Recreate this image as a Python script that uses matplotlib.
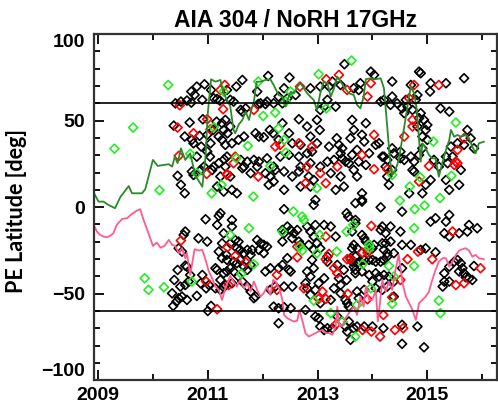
import numpy as np
import matplotlib.pyplot as plt
from matplotlib.ticker import MultipleLocator

plt.rcParams['font.family'] = ['Liberation Sans', 'DejaVu Sans']
plt.rcParams['font.weight'] = 'bold'

# mean polar-edge latitude, north and south (year, deg)
north_line_year = [2008.92, 2009.01, 2009.10, 2009.19, 2009.31, 2009.41, 2009.56, 2009.62, 2009.71, 2009.80,
                   2009.86, 2010.00, 2010.09, 2010.20, 2010.29, 2010.35, 2010.40, 2010.45, 2010.51, 2010.59,
                   2010.68, 2010.77, 2010.90, 2010.96, 2011.00, 2011.06, 2011.14, 2011.23, 2011.29, 2011.35,
                   2011.41, 2011.47, 2011.50, 2011.56, 2011.63, 2011.69, 2011.75, 2011.81, 2011.84, 2011.89,
                   2011.96, 2012.05, 2012.14, 2012.20, 2012.29, 2012.36, 2012.42, 2012.45, 2012.51, 2012.57,
                   2012.63, 2012.69, 2012.75, 2012.81, 2012.87, 2012.93, 2012.99, 2013.05, 2013.11, 2013.18,
                   2013.24, 2013.30, 2013.36, 2013.42, 2013.48, 2013.57, 2013.66, 2013.72, 2013.78, 2013.84,
                   2013.88, 2013.97, 2014.06, 2014.15, 2014.21, 2014.27, 2014.32, 2014.36, 2014.42, 2014.48,
                   2014.55, 2014.61, 2014.65, 2014.70, 2014.76, 2014.81, 2014.85, 2014.88, 2014.91, 2014.97,
                   2015.03, 2015.09, 2015.15, 2015.21, 2015.28, 2015.34, 2015.40, 2015.43, 2015.49, 2015.55,
                   2015.61, 2015.70, 2015.76, 2015.82, 2015.88, 2015.94, 2016.03]
north_line_lat = [8.4, 3.2, 3.2, 1.3, -0.6, 6.0, 12.2, 8.0, 8.0, 8.0,
                  10.3, 27.3, 23.8, 24.4, 24.8, 23.4, 29.2, 25.4, 34.0, 27.3,
                  31.1, 18.6, 11.8, 29.2, 54.2, 73.9, 72.5, 73.5, 65.8, 61.9,
                  58.1, 44.6, 42.7, 47.5, 50.4, 55.2, 50.4, 58.1, 60.9, 72.5,
                  72.5, 73.5, 73.9, 70.6, 64.8, 63.8, 58.1, 61.9, 66.7, 65.8,
                  69.6, 71.6, 68.7, 65.8, 63.8, 61.9, 56.2, 65.8, 72.5, 71.6,
                  63.8, 68.7, 75.4, 72.5, 69.6, 65.8, 64.8, 59.1, 57.1, 63.8,
                  73.9, 74.5, 73.9, 74.5, 68.7, 46.5, 27.3, 18.6, 21.5, 27.3,
                  40.7, 52.3, 60.9, 69.6, 65.8, 56.2, 38.8, 26.3, 36.9, 34.0,
                  30.2, 28.2, 28.2, 17.6, 26.3, 33.0, 38.8, 44.6, 40.7, 41.7,
                  40.7, 41.7, 39.8, 35.0, 31.1, 36.9, 37.8]

south_line_year = [2008.92, 2008.98, 2009.04, 2009.10, 2009.16, 2009.22, 2009.28, 2009.34, 2009.44, 2009.53,
                   2009.62, 2009.71, 2009.77, 2009.83, 2009.92, 2010.00, 2010.07, 2010.14, 2010.21, 2010.29,
                   2010.35, 2010.41, 2010.47, 2010.53, 2010.59, 2010.62, 2010.68, 2010.76, 2010.83, 2010.90,
                   2010.96, 2011.02, 2011.08, 2011.14, 2011.20, 2011.26, 2011.32, 2011.41, 2011.47, 2011.53,
                   2011.59, 2011.66, 2011.72, 2011.78, 2011.84, 2011.90, 2011.96, 2012.02, 2012.08, 2012.14,
                   2012.19, 2012.25, 2012.31, 2012.36, 2012.39, 2012.45, 2012.51, 2012.57, 2012.63, 2012.67,
                   2012.72, 2012.78, 2012.84, 2012.90, 2012.96, 2013.02, 2013.09, 2013.15, 2013.21, 2013.27,
                   2013.33, 2013.36, 2013.39, 2013.45, 2013.51, 2013.57, 2013.66, 2013.72, 2013.78, 2013.84,
                   2013.88, 2013.94, 2014.00, 2014.06, 2014.10, 2014.14, 2014.18, 2014.24, 2014.30, 2014.36,
                   2014.42, 2014.48, 2014.55, 2014.61, 2014.67, 2014.73, 2014.79, 2014.85, 2014.91, 2014.97,
                   2015.03, 2015.09, 2015.15, 2015.21, 2015.28, 2015.34, 2015.40, 2015.46, 2015.52, 2015.58,
                   2015.64, 2015.70, 2015.76, 2015.82, 2015.88, 2015.94, 2016.03]
south_line_lat = [-10.3, -14.1, -16.1, -17.0, -17.4, -16.6, -15.1, -10.3, -6.8, -6.4,
                  -3.9, -2.0, -1.2, -7.4, -15.1, -22.4, -20.5, -23.4, -22.4, -18.9,
                  -21.8, -22.4, -26.6, -23.7, -29.5, -26.6, -39.2, -24.3, -25.1, -24.7,
                  -30.5, -37.3, -41.1, -45.9, -47.8, -53.6, -46.9, -39.7, -43.0, -45.9,
                  -42.1, -46.9, -44.0, -48.8, -43.0, -47.8, -51.7, -49.7, -45.9, -50.7,
                  -42.1, -43.6, -47.8, -53.6, -62.3, -64.2, -65.2, -66.1, -65.6, -59.4,
                  -65.2, -72.8, -74.8, -73.8, -72.8, -71.9, -70.9, -72.8, -72.8, -73.8,
                  -69.0, -57.5, -68.0, -69.0, -64.2, -61.3, -57.5, -62.3, -51.7, -57.5,
                  -45.9, -53.6, -53.6, -47.8, -66.1, -54.6, -42.1, -48.8, -43.0, -47.8,
                  -36.3, -27.6, -44.0, -51.7, -55.5, -59.4, -65.2, -55.5, -53.6, -51.7,
                  -48.8, -42.1, -36.3, -31.5, -29.5, -29.5, -34.4, -31.5, -27.6, -25.1,
                  -24.3, -23.7, -25.1, -28.6, -27.6, -29.5, -30.1]

# individual polar-edge detections (year, latitude)
black_north = [(2010.80, 69.7), (2010.94, 71.0), (2010.70, 66.8), (2010.76, 64.9), (2010.90, 62.0), (2010.41, 60.0),
               (2010.51, 61.0), (2010.62, 61.6), (2010.70, 60.4), (2011.06, 67.7), (2011.11, 62.9), (2011.17, 62.5),
               (2011.22, 61.6), (2010.38, 47.1), (2010.67, 48.9), (2010.58, 40.8), (2010.71, 38.9), (2010.74, 36.9),
               (2010.85, 41.2), (2010.91, 50.8), (2010.99, 41.8), (2011.05, 36.9), (2011.10, 44.6), (2011.16, 49.4),
               (2011.20, 40.8), (2011.26, 48.5), (2011.29, 44.6), (2010.99, 32.1), (2010.88, 35.0), (2011.04, 29.2),
               (2010.80, 29.2), (2011.11, 23.4), (2011.20, 25.4), (2011.30, 27.7), (2011.32, 23.4), (2011.23, 17.7),
               (2011.17, 11.9), (2010.45, 18.1), (2010.51, 12.9), (2010.58, 8.0), (2010.71, 20.6), (2010.74, 18.6),
               (2010.87, 21.5), (2011.08, 21.5), (2010.93, 23.4), (2011.26, 38.9), (2011.32, 36.0), (2011.36, 42.7),
               (2013.49, 82.6), (2011.63, 73.5), (2011.52, 69.7), (2011.35, 67.7), (2012.10, 75.8), (2011.90, 66.8),
               (2012.49, 74.9), (2012.39, 68.7), (2012.87, 68.7), (2012.60, 64.8), (2013.05, 69.7), (2013.21, 69.7),
               (2013.27, 72.6), (2013.42, 70.6), (2013.66, 68.7), (2011.41, 62.0), (2011.47, 61.0), (2011.60, 56.2),
               (2011.63, 55.2), (2011.69, 57.1), (2011.92, 59.6), (2011.96, 60.0), (2012.05, 59.6), (2012.08, 61.0),
               (2012.20, 60.0), (2012.29, 63.9), (2012.36, 60.0), (2012.45, 62.9), (2012.66, 50.8), (2012.99, 50.4),
               (2013.05, 56.2), (2013.12, 58.1), (2013.18, 62.0), (2013.33, 58.1), (2011.32, 50.4), (2011.41, 46.6),
               (2011.44, 36.9), (2011.56, 38.9), (2011.66, 40.8), (2011.87, 42.7), (2011.93, 40.8), (2012.02, 40.4),
               (2012.13, 44.6), (2012.19, 42.7), (2012.29, 38.9), (2012.36, 48.5), (2012.48, 42.7), (2012.54, 36.9),
               (2012.69, 36.0), (2012.81, 46.6), (2012.87, 40.8), (2012.90, 32.1), (2012.99, 36.9), (2013.04, 44.6),
               (2013.21, 35.0), (2013.35, 39.8), (2013.39, 36.0), (2013.45, 34.0), (2013.42, 31.1), (2013.45, 28.2),
               (2013.51, 26.3), (2013.63, 30.2), (2013.72, 33.1), (2011.35, 29.2), (2011.60, 27.3), (2011.66, 23.4),
               (2011.72, 26.3), (2011.84, 27.3), (2011.93, 26.3), (2012.08, 28.2), (2012.20, 23.4), (2012.32, 29.2),
               (2012.48, 30.2), (2012.66, 29.2), (2012.69, 23.4), (2012.81, 31.1), (2012.87, 25.4), (2013.05, 23.4),
               (2013.18, 26.3), (2013.30, 27.3), (2013.57, 25.4), (2011.41, 17.7), (2011.63, 22.5), (2011.78, 19.6),
               (2011.90, 23.4), (2012.05, 19.6), (2012.14, 17.7), (2012.23, 21.5), (2012.39, 20.6), (2012.54, 17.7),
               (2012.66, 20.6), (2012.84, 17.7), (2012.93, 15.7), (2013.24, 19.6), (2013.42, 17.7), (2013.66, 21.5),
               (2011.29, 9.0), (2011.44, 10.0), (2011.53, 8.0), (2012.11, 12.9), (2012.20, 14.8), (2012.39, 10.0),
               (2012.69, 11.9), (2012.87, 11.9), (2013.33, 10.0), (2013.48, 11.9), (2013.69, 2.3),
               (2013.97, 78.3), (2014.03, 76.4), (2014.85, 78.3), (2014.88, 77.4), (2015.67, 74.5), (2014.36, 72.6),
               (2013.78, 71.6), (2013.75, 67.7), (2015.05, 66.8), (2015.06, 71.6), (2015.34, 71.6), (2014.70, 70.6),
               (2014.36, 63.9), (2014.21, 62.0), (2014.15, 61.0), (2014.61, 62.0), (2014.82, 64.8), (2014.79, 62.0),
               (2015.24, 57.1), (2015.40, 55.2), (2014.33, 59.1), (2014.45, 60.0), (2014.54, 57.1), (2014.58, 54.3),
               (2014.64, 58.1), (2014.73, 56.2), (2014.88, 54.3), (2013.63, 50.4), (2013.88, 48.5), (2013.66, 44.6),
               (2013.60, 39.8), (2013.81, 41.8), (2013.85, 37.9), (2013.94, 31.1), (2014.06, 36.0), (2014.12, 36.9),
               (2013.75, 26.3), (2013.88, 24.4), (2013.72, 17.7), (2013.81, 8.0), (2013.81, 4.2), (2014.21, 29.2),
               (2014.27, 27.3), (2014.24, 23.4), (2014.27, 17.7), (2014.30, 12.9), (2014.36, 21.5), (2014.36, 34.0),
               (2014.39, 31.1), (2014.51, 28.3), (2014.58, 27.3), (2014.70, 29.2), (2014.76, 26.3), (2014.73, 21.5),
               (2014.85, 30.2), (2014.91, 34.0), (2014.97, 44.6), (2015.00, 38.9), (2014.91, 40.8), (2014.94, 50.4),
               (2014.85, 51.4), (2014.82, 46.6), (2015.00, 47.5), (2015.06, 15.7), (2014.97, 12.9), (2014.91, 8.0),
               (2015.12, 27.3), (2015.21, 23.4), (2015.34, 29.2), (2015.37, 25.4), (2015.46, 29.2), (2015.43, 35.0),
               (2015.55, 36.9), (2015.73, 44.6), (2015.67, 36.0), (2015.79, 39.8), (2015.85, 34.0), (2015.61, 21.5),
               (2015.58, 12.9), (2015.40, 10.0), (2015.34, 15.7), (2014.67, 8.0), (2014.76, 20.6), (2014.18, 29.2),
               (2014.51, 32.1)]

black_south = [(2010.59, -14.1), (2010.56, -16.1), (2010.47, -23.8), (2010.53, -25.7), (2010.59, -33.8), (2010.62, -34.4),
               (2010.45, -36.3), (2010.39, -42.1), (2010.50, -45.9), (2010.59, -45.0), (2010.68, -39.2), (2010.65, -43.0),
               (2010.53, -51.7), (2010.62, -53.6), (2010.35, -49.8), (2010.37, -57.1), (2010.43, -54.6), (2010.47, -52.6),
               (2010.96, -7.0), (2011.17, -10.3), (2011.20, -5.1), (2011.23, -3.5), (2010.83, -18.0), (2010.99, -19.9),
               (2011.20, -25.7), (2011.26, -20.9), (2011.34, -27.6), (2011.29, -38.2), (2011.35, -37.2), (2010.90, -39.2),
               (2010.87, -44.0), (2010.97, -46.9), (2011.02, -45.0), (2010.80, -51.3), (2011.14, -35.3), (2011.17, -36.3),
               (2011.14, -46.9), (2011.23, -47.8), (2011.29, -46.3), (2011.00, -60.0), (2011.06, -57.1),
               (2012.39, -1.2), (2012.93, 1.3), (2012.96, 4.2), (2013.53, -3.5), (2013.56, -5.5),
               (2011.44, -7.4), (2011.44, -11.2), (2011.29, -15.1), (2011.41, -20.9), (2011.50, -19.0), (2011.56, -19.9),
               (2011.53, -23.8), (2011.59, -24.7), (2011.66, -26.6), (2011.72, -24.7), (2011.78, -27.6), (2011.81, -24.7),
               (2011.90, -19.0), (2011.96, -20.9), (2012.02, -21.8), (2012.08, -22.8), (2011.93, -24.7), (2012.02, -26.6),
               (2011.26, -29.5), (2011.35, -30.5), (2011.47, -31.5), (2011.53, -32.4), (2011.59, -30.5), (2011.66, -34.4),
               (2011.72, -36.3), (2011.78, -33.4), (2011.41, -35.3), (2011.47, -37.2), (2011.23, -42.1), (2011.32, -45.0),
               (2011.44, -44.0), (2011.56, -40.1), (2011.63, -43.0), (2011.72, -45.9), (2011.78, -48.8), (2011.84, -52.6),
               (2011.87, -51.7), (2012.14, -47.8), (2012.23, -45.9), (2012.39, -45.9), (2012.54, -45.9), (2012.05, -37.2),
               (2012.14, -35.3), (2012.29, -35.3), (2012.36, -33.4), (2012.45, -29.5), (2012.48, -36.3), (2012.51, -37.2),
               (2012.36, -13.2), (2012.39, -15.1), (2012.45, -11.2), (2012.51, -13.2), (2012.54, -18.0), (2012.57, -15.1),
               (2012.63, -13.2), (2012.66, -19.9), (2012.69, -21.8), (2012.36, -19.9), (2012.81, -11.2), (2012.87, -14.1),
               (2012.93, -17.0), (2012.96, -10.3), (2013.12, -10.3), (2013.24, -11.2), (2013.33, -17.0), (2012.84, -21.8),
               (2012.93, -24.7), (2012.99, -20.9), (2013.05, -23.8), (2013.18, -28.6), (2013.18, -31.5), (2012.90, -30.5),
               (2012.81, -37.2), (2012.93, -35.3), (2012.87, -40.1), (2012.78, -44.0), (2012.81, -46.9), (2012.87, -50.7),
               (2012.96, -47.8), (2013.02, -44.0), (2013.12, -41.1), (2013.30, -46.9), (2013.05, -55.5), (2013.24, -53.6),
               (2013.42, -49.8), (2013.51, -53.6), (2013.54, -55.5), (2013.57, -57.5), (2013.36, -63.2), (2013.45, -66.1),
               (2013.51, -69.0), (2013.57, -66.1), (2013.60, -76.7), (2012.20, -57.5), (2012.29, -58.4), (2012.39, -57.8),
               (2012.51, -58.4), (2012.29, -67.1), (2012.78, -59.4), (2012.96, -63.2), (2013.05, -69.0), (2013.12, -71.0),
               (2013.18, -70.0), (2013.27, -70.0), (2013.02, -64.2), (2013.54, -71.9), (2013.60, -29.5), (2013.63, -31.5),
               (2013.69, -28.6), (2013.72, -32.4), (2013.63, -23.8), (2013.53, -42.1), (2013.48, -36.3), (2013.39, -41.1),
               (2013.36, -33.4), (2013.42, -45.0), (2013.66, -34.4), (2013.69, -36.3), (2013.63, -14.1), (2013.69, -7.4),
               (2013.81, 3.2), (2014.15, -0.1), (2014.54, -2.6), (2015.06, -8.4), (2015.15, -6.4), (2015.40, -4.5),
               (2015.31, -15.1), (2015.40, -17.0), (2015.34, -8.4), (2015.58, -15.1), (2015.76, -10.3), (2015.73, -14.1),
               (2015.91, -12.2), (2013.69, -9.3), (2014.18, -11.2), (2014.33, -11.2), (2014.24, -15.1), (2014.15, -13.2),
               (2014.51, -14.1), (2013.81, -16.1), (2013.85, -18.0), (2013.88, -19.9), (2013.66, -21.8), (2013.72, -23.8),
               (2013.91, -24.7), (2014.00, -23.8), (2014.03, -21.8), (2014.18, -20.9), (2014.24, -20.9), (2014.33, -19.9),
               (2014.21, -24.7), (2014.27, -26.6), (2014.39, -26.6), (2014.54, -21.8), (2014.70, -21.8), (2013.78, -31.5),
               (2013.85, -30.5), (2013.94, -30.5), (2014.00, -30.5), (2014.06, -31.5), (2014.15, -31.5), (2014.21, -30.5),
               (2014.27, -28.6), (2013.69, -38.2), (2013.81, -37.2), (2013.94, -39.2), (2014.06, -38.2), (2014.12, -40.1),
               (2014.21, -39.2), (2014.30, -40.1), (2014.27, -45.9), (2014.39, -43.0), (2014.00, -43.0), (2014.06, -46.9),
               (2014.18, -47.8), (2013.72, -48.8), (2013.75, -52.6), (2013.85, -47.8), (2014.39, -51.7), (2013.66, -70.0),
               (2013.72, -69.0), (2013.85, -69.0), (2014.00, -69.0), (2014.20, -70.0), (2014.54, -35.3), (2014.54, -68.0),
               (2014.82, -69.0), (2014.54, -79.0), (2014.94, -81.0), (2014.88, -24.7), (2014.97, -23.8), (2015.15, -26.1),
               (2015.28, -45.9), (2015.31, -43.0), (2015.40, -43.0), (2015.31, -38.2), (2015.40, -34.4), (2015.49, -31.5),
               (2015.55, -30.5), (2015.61, -32.4), (2015.58, -37.2), (2015.64, -35.3), (2015.67, -38.2), (2015.70, -40.5),
               (2015.76, -41.1), (2015.82, -42.1), (2015.85, -34.0)]

red_pts = [(2010.49, 58.9), (2010.45, 46.0), (2010.74, 42.7), (2010.99, 50.8), (2011.05, 45.0), (2010.47, 29.6),
           (2010.98, 19.2), (2011.35, 19.2), (2011.23, 67.7), (2011.31, 70.6), (2011.28, 56.6),
           (2011.84, 56.2), (2011.50, 29.2), (2011.47, 25.4), (2011.35, 18.6), (2011.92, 17.7), (2012.23, 35.0),
           (2012.32, 36.0), (2012.66, 36.9), (2012.90, 35.0), (2012.81, 23.4), (2013.05, 19.6), (2013.36, 23.4),
           (2013.39, 76.4), (2013.54, 67.7), (2013.16, 73.9), (2012.78, 13.8), (2013.15, 13.8), (2012.68, 69.7),
           (2013.97, 71.6), (2013.91, 63.9), (2014.76, 70.6), (2014.67, 62.9), (2015.21, 70.6), (2014.73, 50.4),
           (2014.73, 46.6), (2014.58, 40.8), (2014.03, 41.8), (2013.81, 30.2), (2014.03, 21.9), (2014.27, 21.9),
           (2014.85, 14.8), (2015.03, 23.8), (2015.55, 33.1), (2015.52, 26.3), (2015.55, 25.4), (2015.49, 24.4),
           (2015.67, 39.8),
           (2010.51, -19.3), (2010.97, -43.0), (2011.17, -59.0), (2011.36, -23.2), (2011.38, -45.0),
           (2011.50, -28.2), (2011.69, -31.8), (2012.26, -39.2), (2012.26, -47.8), (2012.63, -22.8), (2012.63, -29.0),
           (2013.15, -17.0), (2013.15, -30.1), (2013.21, -27.0), (2013.30, -35.3), (2013.36, -38.2), (2012.75, -46.9),
           (2013.09, -48.8), (2013.02, -53.0), (2013.15, -53.0), (2013.55, -50.1), (2013.54, -30.1), (2013.60, -30.1),
           (2013.33, -68.0), (2013.98, -10.9), (2013.82, -26.3), (2013.91, -26.3), (2013.91, -53.2), (2014.20, -62.3),
           (2014.36, -52.1), (2014.51, -42.1), (2014.64, -30.1), (2014.83, -25.7), (2015.09, -30.1), (2015.52, -45.0),
           (2015.67, -44.0), (2015.97, -35.3), (2015.46, -14.1), (2013.82, -71.0), (2013.98, -71.9), (2014.14, -74.8),
           (2014.41, -71.0), (2014.56, -70.0)]

green_pts = [(2010.28, 70.6), (2009.64, 46.0), (2009.30, 33.8), (2010.12, 9.8), (2010.68, 30.8), (2010.80, 19.6),
             (2011.07, 8.0), (2011.25, 12.9), (2011.11, 46.2), (2011.29, 66.8),
             (2013.62, 84.7), (2013.02, 76.8), (2011.92, 72.6), (2012.51, 66.8), (2012.42, 61.0), (2012.23, 54.6),
             (2012.01, 52.7), (2012.29, 45.6), (2012.39, 38.9), (2011.73, 35.4), (2011.52, 28.3), (2012.14, 23.8),
             (2012.42, 31.5), (2011.83, 6.1), (2012.99, 10.9), (2012.56, -2.5), (2012.72, -5.4), (2013.16, 57.1),
             (2015.11, 37.9), (2015.52, 48.9), (2014.36, 18.6), (2014.87, 17.3), (2014.68, 11.9), (2014.50, 3.8),
             (2014.77, -1.2), (2014.95, 0.9), (2015.23, 5.2), (2015.44, 18.1),
             (2009.85, -41.1), (2009.92, -47.8), (2010.20, -46.3), (2010.71, -43.0), (2011.41, -16.1),
             (2012.75, -7.4), (2011.75, -12.2), (2012.36, -14.1), (2013.04, -16.1), (2013.53, -14.1), (2013.65, -10.3),
             (2012.68, -22.8), (2012.72, -25.1), (2012.99, -26.6), (2013.35, -25.7), (2011.84, -33.0), (2011.61, -38.6),
             (2012.93, -54.0), (2013.24, -61.3), (2013.45, -66.1), (2013.69, -74.8),
             (2013.94, -21.8), (2013.94, -23.8), (2013.82, -33.0), (2014.30, -34.0), (2014.39, -40.1), (2014.76, -34.0),
             (2014.36, -55.9), (2013.72, -56.5), (2015.21, -54.0), (2015.24, -61.3), (2013.97, -46.9), (2014.76, -12.2)]

fig = plt.figure(figsize=(4.98, 4.11), dpi=100)
ax = fig.add_axes([0.188, 0.075, 0.810, 0.842])

marker_kw = dict(marker='D', s=21, facecolors='none', linewidths=1.2)
bx, by = zip(*(black_north + black_south))
ax.scatter(bx, by, edgecolors='black', **marker_kw)
rx, ry = zip(*red_pts)
ax.scatter(rx, ry, edgecolors='#ff0000', **marker_kw)
gx, gy = zip(*green_pts)
ax.scatter(gx, gy, edgecolors='#22ee22', **marker_kw)

ax.plot(north_line_year, north_line_lat, color='#2a8a2a', lw=1.3)
ax.plot(south_line_year, south_line_lat, color='#ff5c8d', lw=1.3)
ax.axhline(60, color='black', lw=1.2)
ax.axhline(-60, color='black', lw=1.2)

ax.set_xlim(2008.92, 2016.27)
ax.set_ylim(-100, 100)
ax.set_xticks([2009, 2011, 2013, 2015])
ax.xaxis.set_minor_locator(MultipleLocator(1))
ax.set_yticks([-100, -50, 0, 50, 100])
ax.yaxis.set_minor_locator(MultipleLocator(10))
ax.tick_params(which='both', direction='in', top=True, right=True, width=1.3, labelsize=14)
ax.tick_params(which='major', length=7)
ax.tick_params(which='minor', length=4)
ax.tick_params(axis='x', pad=5)
ax.tick_params(axis='y', pad=6)
for lab in ax.get_xticklabels() + ax.get_yticklabels():
    lab.set_fontweight('bold')
ylabs = ax.get_yticklabels()
ylabs[0].set_va('bottom')
ylabs[-1].set_va('top')
for sp in ax.spines.values():
    sp.set_linewidth(1.6)
    sp.set_color('#333333')

ax.set_title('AIA 304 / NoRH 17GHz', fontsize=16.5, fontweight='bold', pad=5)
ax.set_ylabel('PE Latitude [deg]', fontsize=15.5, fontweight='bold',
              family=['Lato', 'DejaVu Sans'])
ax.yaxis.set_label_coords(-0.165, 0.49)

fig.savefig('out.png', dpi=100)
